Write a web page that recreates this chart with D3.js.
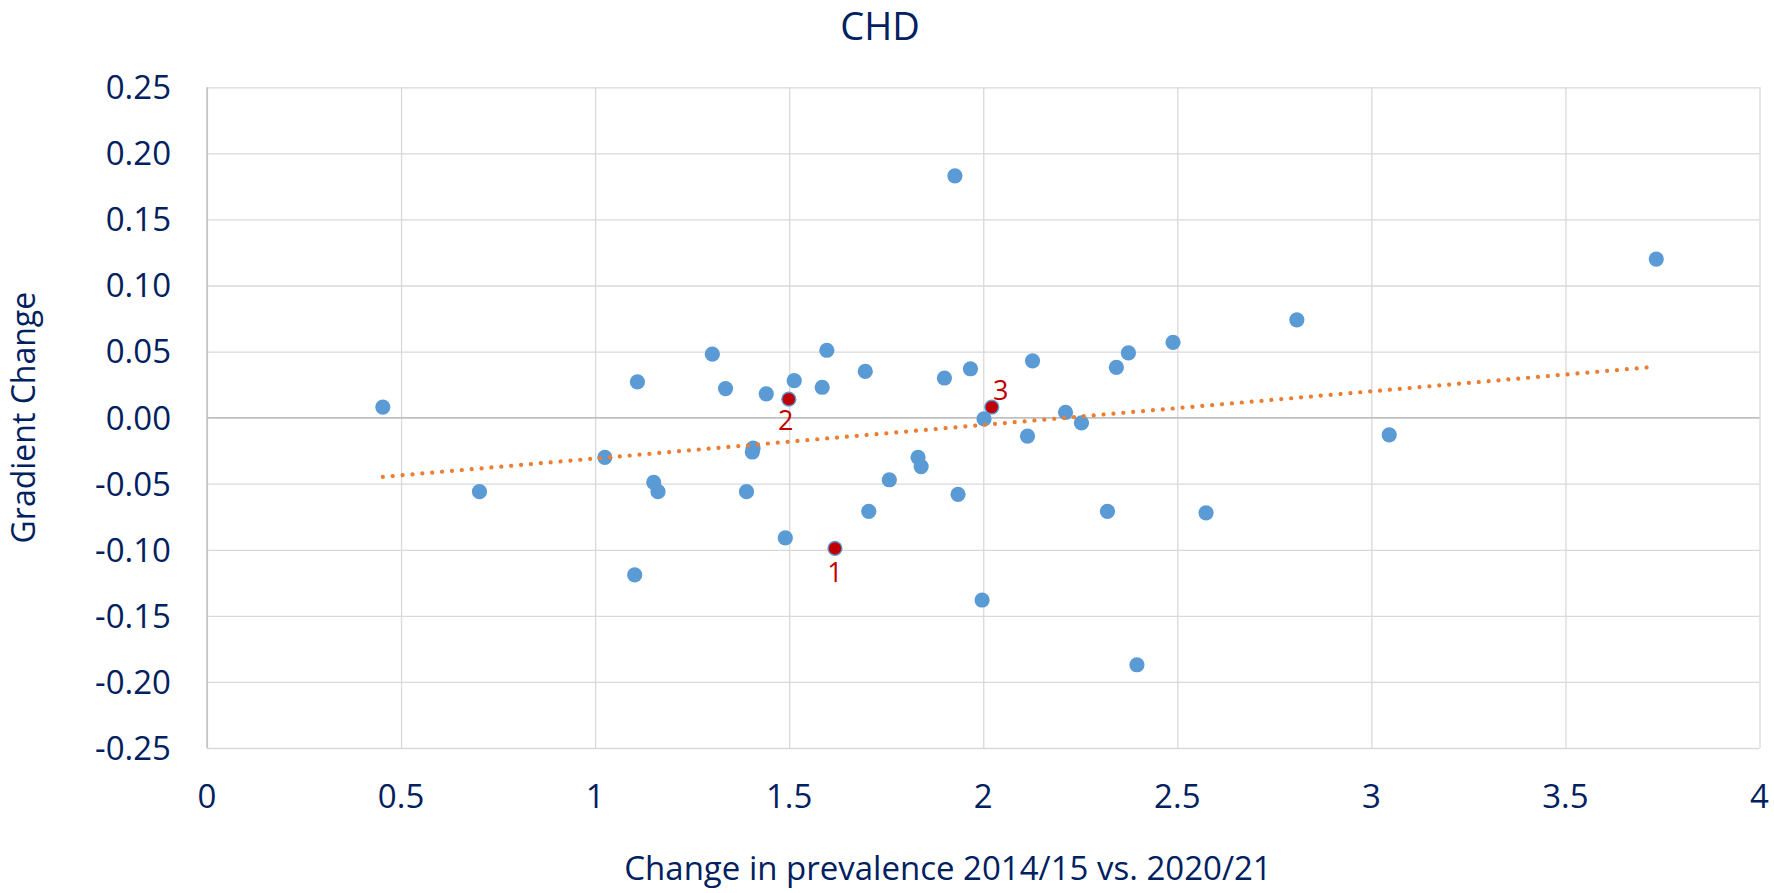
<!DOCTYPE html>
<html>
<head>
<meta charset="utf-8">
<script src="https://cdn.jsdelivr.net/npm/d3@7"></script>
<style>
  body { margin: 0; background: #fff; }
  svg text { font-family: "Open Sans", sans-serif; fill: #002060; }
</style>
</head>
<body>
<svg id="chart"></svg>
<script>
// data
const prevalenceChange = [0.453, 0.702, 1.025, 1.102, 1.109, 1.151, 1.162, 1.302, 1.336, 1.390,
  1.405, 1.407, 1.441, 1.490, 1.499, 1.513, 1.585, 1.597, 1.618, 1.696,
  1.705, 1.758, 1.832, 1.840, 1.900, 1.927, 1.935, 1.967, 1.997, 2.002,
  2.022, 2.114, 2.127, 2.212, 2.253, 2.320, 2.343, 2.374, 2.396, 2.489,
  2.574, 2.808, 3.046, 3.734];
const gradientChange = [0.008, -0.056, -0.030, -0.119, 0.027, -0.049, -0.056, 0.048, 0.022, -0.056,
  -0.026, -0.023, 0.018, -0.091, 0.014, 0.028, 0.023, 0.051, -0.099, 0.035,
  -0.071, -0.047, -0.030, -0.037, 0.030, 0.183, -0.058, 0.037, -0.138, -0.001,
  0.008, -0.014, 0.043, 0.004, -0.004, -0.071, 0.038, 0.049, -0.187, 0.057,
  -0.072, 0.074, -0.013, 0.120];

// highlighted points (numbered in red)
const highlightX = [1.618, 1.499, 2.022];
const highlightY = [-0.099, 0.014, 0.008];
const highlightLabels = ["1", "2", "3"];

// trendline end points
const trendX = [0.453, 3.734];
const trendY = [-0.0448, 0.0386];

const xTicks = [0, 0.5, 1, 1.5, 2, 2.5, 3, 3.5, 4];
const yTicks = [-0.25, -0.20, -0.15, -0.10, -0.05, 0, 0.05, 0.10, 0.15, 0.20, 0.25];

const width = 1774, height = 893;
const plotLeft = 207, plotRight = 1759.5, plotTop = 87.3, plotBottom = 748;

const svg = d3.select("#chart")
    .attr("width", width)
    .attr("height", height);

const x = d3.scaleLinear().domain([0, 4]).range([plotLeft, plotRight]);
const y = d3.scaleLinear().domain([-0.25, 0.25]).range([plotBottom, plotTop]);

// gridlines
svg.append("g")
    .attr("transform", "translate(0," + plotBottom + ")")
    .call(d3.axisBottom(x).tickValues(xTicks).tickSize(-(plotBottom - plotTop)).tickFormat(""))
    .call(g => g.select(".domain").remove())
    .call(g => g.selectAll("line").attr("stroke", "#d9d9d9").attr("stroke-width", 1.3));

svg.append("g")
    .attr("transform", "translate(" + plotLeft + ",0)")
    .call(d3.axisLeft(y).tickValues(yTicks).tickSize(-(plotRight - plotLeft)).tickFormat(""))
    .call(g => g.select(".domain").remove())
    .call(g => g.selectAll("line").attr("stroke", "#d9d9d9").attr("stroke-width", 1.3));

// axis lines (left edge and zero line)
svg.append("line")
    .attr("x1", x(0)).attr("x2", x(0))
    .attr("y1", plotTop).attr("y2", plotBottom)
    .attr("stroke", "#bfbfbf").attr("stroke-width", 1.5);
svg.append("line")
    .attr("x1", plotLeft).attr("x2", plotRight)
    .attr("y1", y(0)).attr("y2", y(0))
    .attr("stroke", "#bfbfbf").attr("stroke-width", 1.5);

// tick labels (plain hyphen for negatives, like Excel)
const fmt = d => d3.format(".2f")(d).replace("\u2212", "-");
svg.append("g").selectAll("text")
    .data(yTicks)
    .enter().append("text")
    .attr("x", 171)
    .attr("y", d => y(d))
    .attr("dy", "0.36em")
    .attr("text-anchor", "end")
    .style("font-size", "33px")
    .text(fmt);

svg.append("g").selectAll("text")
    .data(xTicks)
    .enter().append("text")
    .attr("x", d => x(d))
    .attr("y", 808)
    .attr("text-anchor", "middle")
    .style("font-size", "33px")
    .text(d => d);

// titles
svg.append("text")
    .attr("x", 880).attr("y", 40)
    .attr("text-anchor", "middle")
    .style("font-size", "38px")
    .text("CHD");

svg.append("text")
    .attr("x", 948).attr("y", 880)
    .attr("text-anchor", "middle")
    .style("font-size", "33px")
    .text("Change in prevalence 2014/15 vs. 2020/21");

svg.append("text")
    .attr("transform", "translate(35," + y(0) + ") rotate(-90)")
    .attr("text-anchor", "middle")
    .style("font-size", "32px")
    .text("Gradient Change");

// points
const points = d3.zip(prevalenceChange, gradientChange);
svg.append("g").selectAll("circle")
    .data(points)
    .enter().append("circle")
    .attr("cx", d => x(d[0]))
    .attr("cy", d => y(d[1]))
    .attr("r", 7.6)
    .attr("fill", "#5b9bd5");

// trendline
const trend = d3.line().x(d => x(d[0])).y(d => y(d[1]));
svg.append("path")
    .datum(d3.zip(trendX, trendY))
    .attr("d", trend)
    .attr("fill", "none")
    .attr("stroke", "#ed7d31")
    .attr("stroke-width", 4.2)
    .attr("stroke-linecap", "round")
    .attr("stroke-dasharray", "0.01 9.9");

// highlighted points
const hl = d3.zip(highlightX, highlightY, highlightLabels);
svg.append("g").selectAll("circle")
    .data(hl)
    .enter().append("circle")
    .attr("cx", d => x(d[0]))
    .attr("cy", d => y(d[1]))
    .attr("r", 6.2)
    .attr("fill", "#c00000");

const labelOffsets = [[0, 34], [-3, 31], [9, -7]];
svg.append("g").selectAll("text")
    .data(hl)
    .enter().append("text")
    .attr("x", (d, i) => x(d[0]) + labelOffsets[i][0])
    .attr("y", (d, i) => y(d[1]) + labelOffsets[i][1])
    .attr("text-anchor", "middle")
    .style("font-size", "27px")
    .style("fill", "#c00000")
    .text(d => d[2]);
</script>
</body>
</html>
